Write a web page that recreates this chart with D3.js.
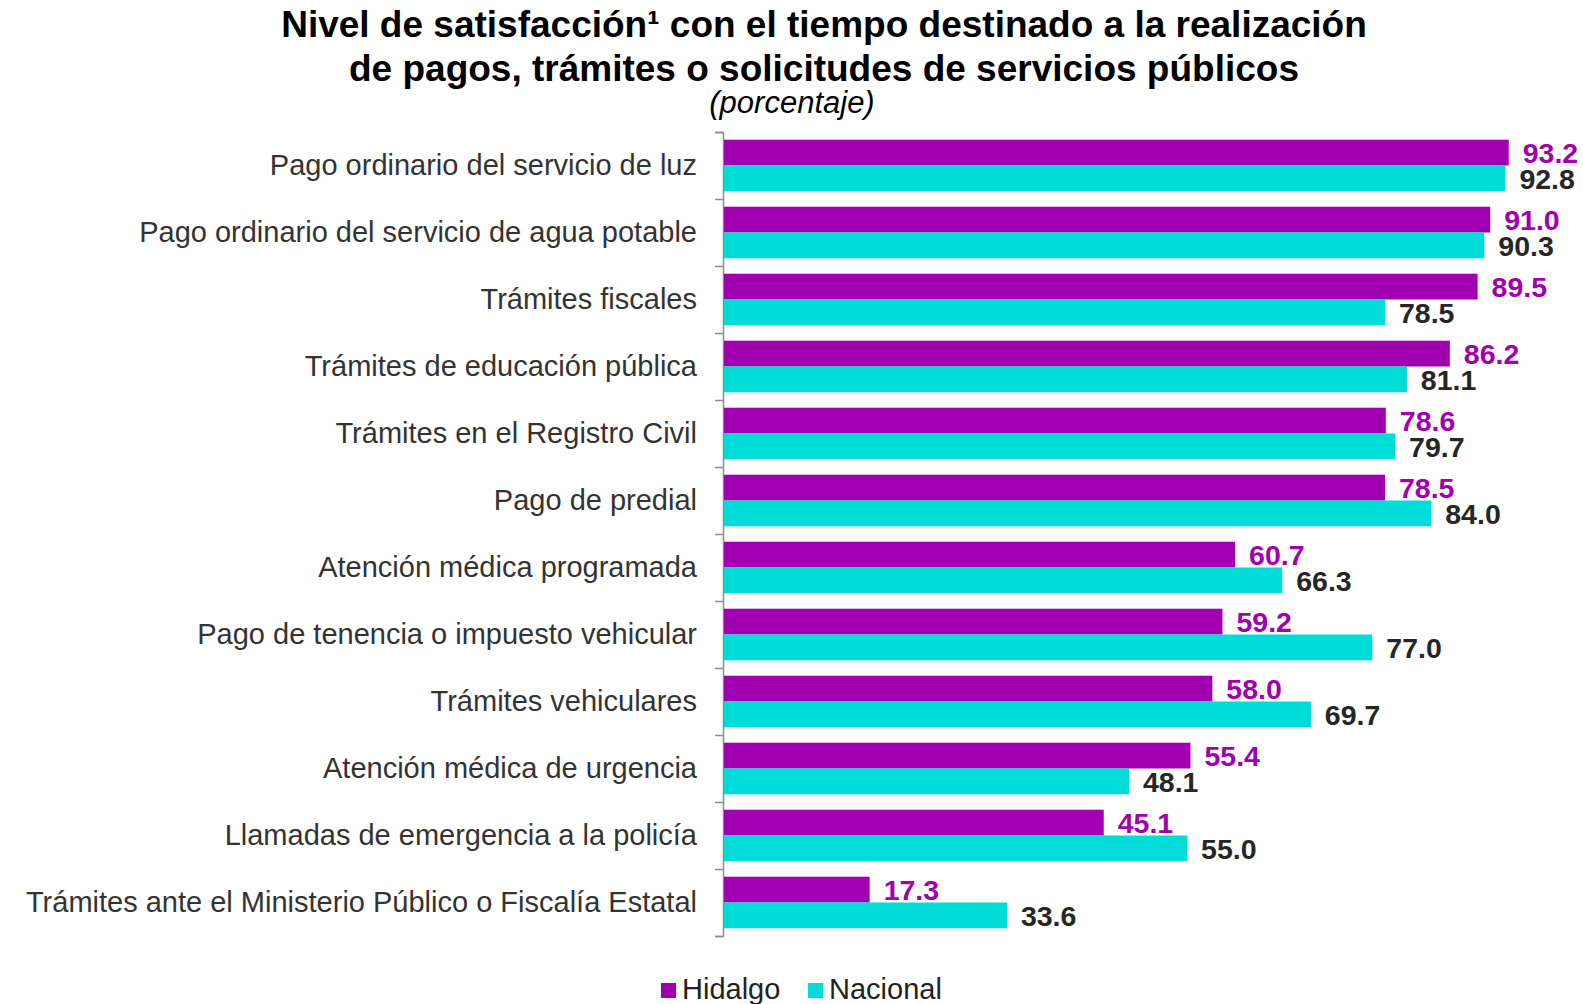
<!DOCTYPE html>
<html>
<head>
<meta charset="utf-8">
<script src="https://cdn.jsdelivr.net/npm/d3@7"></script>
<style>
  body { margin: 0; background: #fff; }
  svg { font-family: "Liberation Sans", Arial, sans-serif; }
</style>
</head>
<body>
<svg width="1583" height="1004"></svg>
<script>
const categories = [
  'Pago ordinario del servicio de luz',
  'Pago ordinario del servicio de agua potable',
  'Trámites fiscales',
  'Trámites de educación pública',
  'Trámites en el Registro Civil',
  'Pago de predial',
  'Atención médica programada',
  'Pago de tenencia o impuesto vehicular',
  'Trámites vehiculares',
  'Atención médica de urgencia',
  'Llamadas de emergencia a la policía',
  'Trámites ante el Ministerio Público o Fiscalía Estatal'
];
const hidalgo = [93.2, 91.0, 89.5, 86.2, 78.6, 78.5, 60.7, 59.2, 58.0, 55.4, 45.1, 17.3];
const nacional = [92.8, 90.3, 78.5, 81.1, 79.7, 84.0, 66.3, 77.0, 69.7, 48.1, 55.0, 33.6];
const seriesNames = ['Hidalgo', 'Nacional'];

const svg = d3.select('svg');
const margin = {top: 132, left: 723};
const innerWidth = 842;
const innerHeight = 804;
const colors = {Hidalgo: '#a000b0', Nacional: '#00dcd8'};
const labelColors = {Hidalgo: '#a000b0', Nacional: '#262626'};

const data = categories.map((c, i) => ({cat: c, Hidalgo: hidalgo[i], Nacional: nacional[i]}));

const xScale = d3.scaleLinear().domain([0, 100]).range([0, innerWidth]);
const yScale = d3.scaleBand().domain(categories).range([0, innerHeight])
  .paddingInner(0.23).paddingOuter(0.115);
const subScale = d3.scaleBand().domain(seriesNames).range([0, yScale.bandwidth()]);

const g = svg.append('g').attr('transform', `translate(${margin.left},${margin.top})`);

// category labels
const yAxisG = g.append('g').call(d3.axisLeft(yScale).tickSize(0).tickPadding(26));
yAxisG.select('.domain').remove();
yAxisG.selectAll('text')
  .attr('font-size', 29)
  .attr('fill', '#333')
  .attr('font-family', '"Liberation Sans", Arial, sans-serif');

// axis line with ticks at band borders
const edgeScale = d3.scaleLinear().domain([0, categories.length]).range([0, innerHeight]);
const edgeAxis = g.append('g')
  .call(d3.axisLeft(edgeScale).ticks(categories.length).tickFormat('').tickSize(8).tickSizeOuter(8));
edgeAxis.selectAll('line, path').attr('stroke', '#8c8c8c').attr('stroke-width', 1.5);

// bars
const groups = g.selectAll('.cat').data(data).enter().append('g')
  .attr('transform', d => `translate(0,${yScale(d.cat)})`);

seriesNames.forEach(s => {
  groups.append('rect')
    .attr('x', 1)
    .attr('y', subScale(s))
    .attr('width', d => xScale(d[s]))
    .attr('height', subScale.bandwidth())
    .attr('fill', colors[s]);
  groups.append('text')
    .attr('x', d => xScale(d[s]) + 15)
    .attr('y', subScale(s) + subScale.bandwidth() / 2)
    .attr('dy', '0.36em')
    .attr('font-size', 28.5)
    .attr('font-weight', 'bold')
    .attr('fill', labelColors[s])
    .text(d => d[s].toFixed(1));
});

// title
const title = svg.append('text')
  .attr('text-anchor', 'middle')
  .attr('font-weight', 'bold')
  .attr('font-size', 37)
  .attr('fill', '#000');
title.append('tspan').attr('x', 824).attr('y', 37).text('Nivel de satisfacción¹ con el tiempo destinado a la realización');
title.append('tspan').attr('x', 824).attr('y', 81).text('de pagos, trámites o solicitudes de servicios públicos');
svg.append('text')
  .attr('x', 792).attr('y', 113)
  .attr('text-anchor', 'middle')
  .attr('font-style', 'italic')
  .attr('font-size', 31)
  .text('(porcentaje)');

// legend
const legendX = [661, 808];
const legend = svg.append('g');
seriesNames.forEach((s, i) => {
  legend.append('rect')
    .attr('x', legendX[i]).attr('y', 983)
    .attr('width', 15).attr('height', 15)
    .attr('fill', colors[s]);
  legend.append('text')
    .attr('x', legendX[i] + 21).attr('y', 999)
    .attr('font-size', 29)
    .attr('fill', '#222')
    .text(s);
});
</script>
</body>
</html>
